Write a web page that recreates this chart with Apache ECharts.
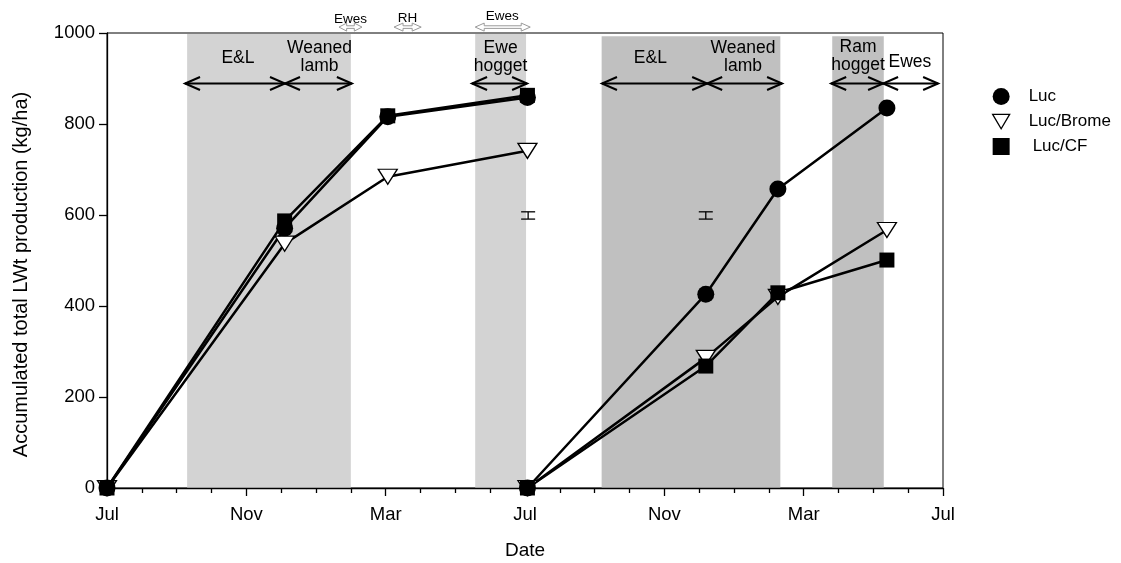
<!DOCTYPE html>
<html>
<head>
<meta charset="utf-8">
<script src="https://cdn.jsdelivr.net/npm/echarts@6/dist/echarts.min.js"></script>
<style>
  html, body { margin: 0; padding: 0; background: #fff; }
  #chart { width: 1121px; height: 563px; }
</style>
</head>
<body>
<div id="chart"></div>
<script>
// x is measured in months from the first July (0) to the third July (24)
const monthTicks = ['Jul', 'Nov', 'Mar', 'Jul', 'Nov', 'Mar', 'Jul'];

// sampling dates (months) for each grazing season
const season1Months = [0, 5.1, 8.06, 12.07];
const season2Months = [12.07, 17.19, 19.26, 22.39];

// accumulated total liveweight production (kg/ha)
const lucS1 = [0, 571, 816, 858];
const lucS2 = [0, 426, 657, 835];
const bromeS1 = [0, 537, 684, 741];
const bromeS2 = [0, 286, 420, 567];
const cfS1 = [0, 587, 818, 863];
const cfS2 = [0, 268, 429, 501];

// grazing-period shading: [start month, end month]
const lightBands = [[2.3, 7.0], [10.57, 12.03]];
const darkBands = [[14.2, 19.33], [20.82, 22.3]];

// stock class periods: [start month, end month]
const stockPeriods = [[2.24, 5.11], [5.11, 7.03], [10.48, 12.06], [14.21, 17.23], [17.23, 19.38], [20.79, 22.28], [22.28, 23.86]];
const stockArrowLevel = 889;
const stockNames = ['E&L', 'Weaned\nlamb', 'Ewe\nhogget', 'E&L', 'Weaned\nlamb', 'Ram\nhogget', 'Ewes'];
const stockNameMonths = [3.76, 6.1, 11.3, 15.6, 18.26, 21.56, 23.05];
const stockNameLevels = [945, 947, 947, 945, 947, 950, 936];

// small notes above the plot: name, label month, arrow start, arrow end
const noteNames = ['Ewes', 'RH', 'Ewes'];
const noteMonths = [6.99, 8.63, 11.35];
const noteStarts = [6.66, 8.24, 10.57];
const noteEnds = [7.32, 9.02, 12.15];
const noteTextLevels = [1031, 1032, 1036];
const noteArrowLevel = 1013;

// LSD bars
const lsdMonths = [12.09, 17.19];
const lsdLow = [591, 591];
const lsdHigh = [607, 607];

const FONT = 'Liberation Sans, Arial, sans-serif';
const pairs = (xs, ys) => xs.map((x, i) => [x, ys[i]]);
const downTri = 'path://M0,0L20,0L10,17Z';

const chart = echarts.init(document.getElementById('chart'), null, { renderer: 'canvas' });

function bandSeries(bands, color, top) {
  return {
    type: 'custom',
    silent: true,
    z: 1,
    data: bands,
    renderItem: function (params, api) {
      const p0 = api.coord([api.value(0), top]);
      const p1 = api.coord([api.value(1), 0]);
      return {
        type: 'rect',
        shape: { x: p0[0], y: p0[1], width: p1[0] - p0[0], height: p1[1] - p0[1] },
        style: { fill: color }
      };
    }
  };
}

const lineCommon = {
  type: 'line',
  z: 3,
  lineStyle: { color: '#000', width: 2.5 },
  emphasis: { disabled: true },
  animation: false
};

const option = {
  animation: false,
  backgroundColor: '#fff',
  textStyle: { fontFamily: FONT },
  grid: {
    left: 107, right: 178, top: 33, bottom: 75,
    outerBoundsMode: 'none',
    containLabel: false,
    show: true, borderColor: '#000', borderWidth: 1, backgroundColor: 'transparent'
  },
  legend: {
    orient: 'vertical',
    left: 987,
    top: 83,
    itemWidth: 17,
    itemHeight: 17,
    itemGap: 8,
    selectedMode: false,
    textStyle: { fontSize: 17, color: '#000', fontFamily: FONT },
    formatter: function (name) {
      return name === 'Luc/CF' ? '{c|' + name + '}' : '{t|' + name + '}';
    },
    data: [
      { name: 'Luc', icon: 'circle', itemStyle: { color: '#000', borderWidth: 0 } },
      { name: 'Luc/Brome', icon: downTri, itemStyle: { color: '#fff', borderColor: '#000', borderWidth: 1.3 } },
      { name: 'Luc/CF', icon: 'rect', itemStyle: { color: '#000', borderWidth: 0 } }
    ]
  },
  xAxis: {
    type: 'value',
    min: 0, max: 24, interval: 4,
    z: 5,
    name: 'Date',
    nameLocation: 'middle',
    nameGap: 53,
    nameTextStyle: { fontSize: 19, color: '#000', fontFamily: FONT },
    axisLine: { lineStyle: { color: '#000', width: 1.3 } },
    axisTick: { show: true, inside: false, length: 8, lineStyle: { color: '#000', width: 1.3 } },
    minorTick: { show: true, splitNumber: 4, length: 5, lineStyle: { color: '#000', width: 1.3 } },
    splitLine: { show: false },
    axisLabel: {
      margin: 17, fontSize: 18.5, color: '#000', fontFamily: FONT,
      formatter: function (v) { return monthTicks[Math.round(v / 4)]; }
    }
  },
  yAxis: {
    type: 'value',
    min: 0, max: 1000, interval: 200,
    z: 5,
    name: 'Accumulated total LWt production (kg/ha)',
    nameLocation: 'middle',
    nameGap: 76,
    nameTextStyle: { fontSize: 20, color: '#000', fontFamily: FONT, padding: [0, 28, 0, 0] },
    axisLine: { show: true, lineStyle: { color: '#000', width: 1.3 } },
    axisTick: { show: true, inside: false, length: 8, lineStyle: { color: '#000', width: 1.3 } },
    splitLine: { show: false },
    axisLabel: {
      margin: 12, fontSize: 18.5, color: '#000', fontFamily: FONT,
      formatter: function (v) { return String(v); }
    }
  },
  series: [
    bandSeries(lightBands, '#d3d3d3', 998),
    bandSeries(darkBands, '#c0c0c0', 993),

    // stock class double-headed arrows
    {
      type: 'custom', silent: true, z: 4, clip: false,
      data: stockPeriods.map(p => [p[0], p[1], stockArrowLevel]),
      renderItem: function (params, api) {
        const a = api.coord([api.value(0), api.value(2)]);
        const b = api.coord([api.value(1), api.value(2)]);
        const L = 15, H = 6.5;
        const st = { stroke: '#000', lineWidth: 2, fill: null };
        return {
          type: 'group',
          children: [
            { type: 'line', shape: { x1: a[0], y1: a[1], x2: b[0], y2: b[1] }, style: st },
            { type: 'polyline', shape: { points: [[a[0] + L, a[1] - H], [a[0], a[1]], [a[0] + L, a[1] + H]] }, style: st },
            { type: 'polyline', shape: { points: [[b[0] - L, b[1] - H], [b[0], b[1]], [b[0] - L, b[1] + H]] }, style: st }
          ]
        };
      }
    },
    // stock class names
    {
      type: 'custom', silent: true, z: 4, clip: false,
      data: stockNames.map((n, i) => [stockNameMonths[i], stockNameLevels[i], i]),
      renderItem: function (params, api) {
        const p = api.coord([api.value(0), api.value(1)]);
        return {
          type: 'text',
          x: p[0], y: p[1],
          style: {
            text: stockNames[api.value(2)],
            fontSize: 17.5, fontFamily: FONT, fill: '#000',
            align: 'center', verticalAlign: 'middle', lineHeight: 18
          }
        };
      }
    },
    // notes above the plot frame
    {
      type: 'custom', silent: true, z: 4, clip: false,
      data: noteNames.map((n, i) => [noteMonths[i], noteTextLevels[i], noteStarts[i], noteEnds[i], i]),
      renderItem: function (params, api) {
        const t = api.coord([api.value(0), api.value(1)]);
        const a = api.coord([api.value(2), noteArrowLevel]);
        const b = api.coord([api.value(3), noteArrowLevel]);
        const h = Math.min(9, (b[0] - a[0]) / 3), w = 4, s = 1.3;
        const y = a[1];
        const pts = [
          [a[0], y], [a[0] + h, y - w], [a[0] + h, y - s], [b[0] - h, y - s], [b[0] - h, y - w],
          [b[0], y], [b[0] - h, y + w], [b[0] - h, y + s], [a[0] + h, y + s], [a[0] + h, y + w]
        ];
        return {
          type: 'group',
          children: [
            { type: 'polygon', shape: { points: pts }, style: { fill: '#fff', stroke: '#9a9a9a', lineWidth: 1 } },
            {
              type: 'text', x: t[0], y: t[1],
              style: { text: noteNames[api.value(4)], fontSize: 13.5, fontFamily: FONT, fill: '#000', align: 'center', verticalAlign: 'middle' }
            }
          ]
        };
      }
    },
    // LSD bars
    {
      type: 'custom', silent: true, z: 4,
      data: lsdMonths.map((m, i) => [m, lsdLow[i], lsdHigh[i]]),
      renderItem: function (params, api) {
        const lo = api.coord([api.value(0), api.value(1)]);
        const hi = api.coord([api.value(0), api.value(2)]);
        const c = 7;
        const st = { stroke: '#000', lineWidth: 1.3 };
        return {
          type: 'group',
          children: [
            { type: 'line', shape: { x1: lo[0], y1: lo[1], x2: hi[0], y2: hi[1] }, style: st },
            { type: 'line', shape: { x1: lo[0] - c, y1: lo[1], x2: lo[0] + c, y2: lo[1] }, style: st },
            { type: 'line', shape: { x1: hi[0] - c, y1: hi[1], x2: hi[0] + c, y2: hi[1] }, style: st }
          ]
        };
      }
    },

    Object.assign({}, lineCommon, { name: 'Luc', data: pairs(season1Months, lucS1), symbol: 'circle', symbolSize: 17, itemStyle: { color: '#000' } }),
    Object.assign({}, lineCommon, { name: 'Luc', data: pairs(season2Months, lucS2), symbol: 'circle', symbolSize: 17, itemStyle: { color: '#000' } }),
    Object.assign({}, lineCommon, { name: 'Luc/Brome', data: pairs(season1Months, bromeS1), symbol: downTri, symbolSize: [19, 15], itemStyle: { color: '#fff', borderColor: '#000', borderWidth: 1.3 } }),
    Object.assign({}, lineCommon, { name: 'Luc/Brome', data: pairs(season2Months, bromeS2), symbol: downTri, symbolSize: [19, 15], itemStyle: { color: '#fff', borderColor: '#000', borderWidth: 1.3 } }),
    Object.assign({}, lineCommon, { name: 'Luc/CF', data: pairs(season1Months, cfS1), symbol: 'rect', symbolSize: 15, itemStyle: { color: '#000' } }),
    Object.assign({}, lineCommon, { name: 'Luc/CF', data: pairs(season2Months, cfS2), symbol: 'rect', symbolSize: 15, itemStyle: { color: '#000' } })
  ]
};

option.legend.textStyle.rich = {
  t: { fontSize: 17, fontFamily: FONT, color: '#000', padding: [0, 0, 0, 14] },
  c: { fontSize: 17, fontFamily: FONT, color: '#000', padding: [0, 0, 0, 18] }
};

chart.setOption(option);
</script>
</body>
</html>
